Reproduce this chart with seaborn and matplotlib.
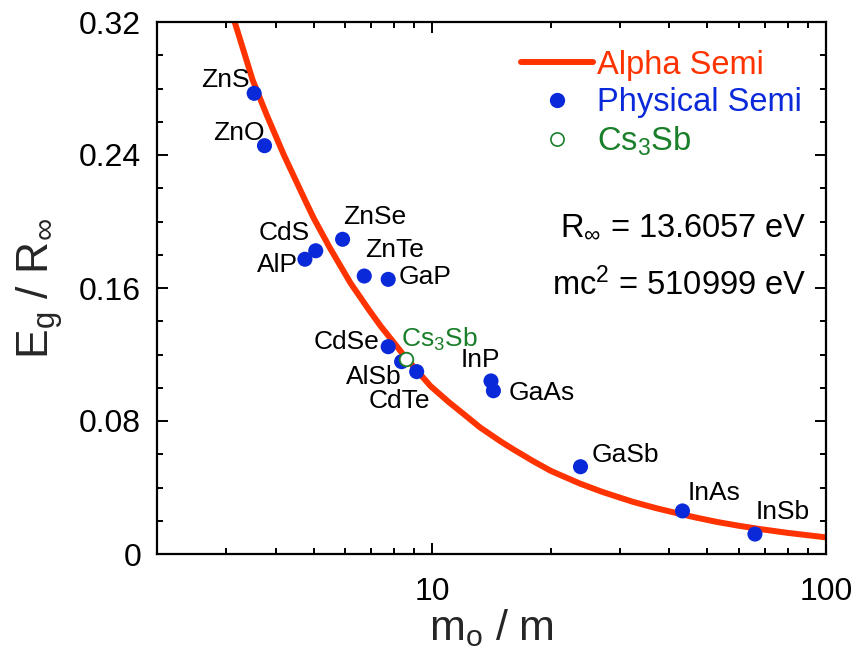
import numpy as np
import pandas as pd
import matplotlib
matplotlib.use("Agg")
import matplotlib.pyplot as plt
import seaborn as sns
from matplotlib.lines import Line2D
from matplotlib.ticker import LogLocator, FixedLocator, MultipleLocator, NullFormatter

# ---- data ----
curve_x = [3.15, 3.5, 3.8, 4.2, 4.75, 5.0, 5.5, 6.2, 6.9, 7.4, 8.0, 8.5, 9.9, 11.0, 12.0,
           13.2, 14.9, 16.0, 18.0, 20.0, 23.7, 27.0, 32.3, 37.0, 42.6, 47.0, 52.8, 60.0,
           68.0, 80.0, 100.0]
curve_y = [0.320, 0.285, 0.264, 0.240, 0.213, 0.202, 0.184, 0.163, 0.147, 0.137, 0.127,
           0.119, 0.101, 0.0915, 0.0843, 0.0763, 0.0678, 0.0632, 0.0560, 0.0500, 0.0424,
           0.0374, 0.0314, 0.0276, 0.0241, 0.0218, 0.0193, 0.0170, 0.0150, 0.0127, 0.0100]

semis = ["ZnS", "ZnO", "CdS", "AlP", "ZnSe", "ZnTe", "GaP", "CdSe", "AlSb", "CdTe",
         "InP", "GaAs", "GaSb", "InAs", "InSb"]
semi_x = [3.53, 3.75, 5.06, 4.75, 5.92, 6.72, 7.73, 7.73, 8.36, 9.13, 14.1, 14.3, 23.8, 43.2, 66.0]
semi_y = [0.2771, 0.2456, 0.1824, 0.1773, 0.1893, 0.1672, 0.1652, 0.1247, 0.1157, 0.1097,
          0.1041, 0.0982, 0.0525, 0.0259, 0.0120]

cs3sb_x = [8.56]
cs3sb_y = [0.1173]

x_ticks = [10, 100]
x_ticklabels = ["10", "100"]
y_ticks = [0, 0.08, 0.16, 0.24, 0.32]
y_ticklabels = ["0", "0.08", "0.16", "0.24", "0.32"]

# ---- label offsets (pixels) ----
label_offsets = {
    "ZnS": (-29, 13), "ZnO": (-26, 13), "CdS": (-32, 18), "AlP": (-27, -6),
    "ZnSe": (32, 22), "ZnTe": (30, 26), "GaP": (37, 2), "CdSe": (-42, 5),
    "AlSb": (-28, -15), "CdTe": (-17, -29), "InP": (-11, 21), "GaAs": (48, -2),
    "GaSb": (45, 12), "InAs": (32, 18), "InSb": (28, 22),
}

RED = "#ff3300"
BLUE = "#0a2ad9"
GREEN = "#1a7f2a"

sns.set_theme(style="ticks")
plt.rcParams["font.family"] = ["Liberation Sans", "DejaVu Sans"]
plt.rcParams["mathtext.fontset"] = "custom"
plt.rcParams["mathtext.rm"] = "Liberation Sans"
plt.rcParams["mathtext.it"] = "Liberation Sans"
plt.rcParams["mathtext.sf"] = "Liberation Sans"

fig = plt.figure(figsize=(8.52, 6.69), dpi=100)
ax = fig.add_axes([157 / 852, 1 - 554 / 669, (826 - 157) / 852, (554 - 22) / 669])

curve_df = pd.DataFrame({"x": curve_x, "y": curve_y})
semi_df = pd.DataFrame({"x": semi_x, "y": semi_y, "name": semis})
cs_df = pd.DataFrame({"x": cs3sb_x, "y": cs3sb_y})

sns.lineplot(data=curve_df, x="x", y="y", ax=ax, color=RED, lw=4.3, zorder=2,
             sort=True, estimator=None)
sns.scatterplot(data=semi_df, x="x", y="y", ax=ax, color=BLUE, s=118,
                edgecolor="none", linewidth=0, zorder=3)
sns.scatterplot(data=cs_df, x="x", y="y", ax=ax, facecolor="white", s=95,
                edgecolor=GREEN, linewidth=1.3, zorder=4)

ax.set_xscale("log")
ax.set_xlim(2, 100)
ax.set_ylim(0, 0.32)

for name, x, y in zip(semis, semi_x, semi_y):
    dx, dy = label_offsets[name]
    ax.annotate(name, (x, y), xytext=(dx, dy), textcoords="offset pixels",
                ha="center", va="center", fontsize=19, color="black", zorder=5)
ax.annotate(r"Cs$_{3}$Sb", (cs3sb_x[0], cs3sb_y[0]), xytext=(34, 20),
            textcoords="offset pixels", ha="center", va="center",
            fontsize=19, color=GREEN, zorder=5)

# ticks
ax.xaxis.set_major_locator(FixedLocator(x_ticks))
ax.set_xticklabels(x_ticklabels)
ax.xaxis.set_minor_locator(LogLocator(base=10, subs=np.arange(2, 10)))
ax.xaxis.set_minor_formatter(NullFormatter())
ax.yaxis.set_major_locator(FixedLocator(y_ticks))
ax.set_yticklabels(y_ticklabels)
ax.yaxis.set_minor_locator(MultipleLocator(0.02))
ax.tick_params(which="both", direction="in", top=True, right=True, colors="black",
               labelsize=23, width=1.4)
ax.tick_params(which="major", length=8)
ax.tick_params(axis="x", which="major", pad=16.5)
ax.tick_params(axis="y", which="major", pad=11.5)
ax.tick_params(which="minor", length=4.5)
for sp in ax.spines.values():
    sp.set_visible(True)
    sp.set_color("black")
    sp.set_linewidth(1.6)

ax.set_xlabel(r"m$_{\rm o}$ / m", fontsize=31, labelpad=0)
ax.set_ylabel(r"E$_{\rm g}$ / R$_{\infty}$", fontsize=32, labelpad=10)

# text annotations
ax.text(0.97, 0.615, r"R$_{\infty}$ = 13.6057 eV", transform=ax.transAxes,
        ha="right", va="center", fontsize=23.5, color="black")
ax.text(0.97, 0.505, r"mc$^{2}$ = 510999 eV", transform=ax.transAxes,
        ha="right", va="center", fontsize=23.5, color="black")

handles = [
    Line2D([], [], color=RED, lw=4.3),
    Line2D([], [], color=BLUE, marker="o", ls="none", markersize=11, markeredgewidth=0),
    Line2D([], [], color=GREEN, marker="o", ls="none", markersize=9.5,
           markerfacecolor="white", markeredgewidth=1.2),
]
labels = ["Alpha Semi", "Physical Semi", r"Cs$_{3}$Sb"]
leg = ax.legend(handles, labels, loc="upper left", bbox_to_anchor=(0.51, 0.991),
                frameon=False, fontsize=23.5, handlelength=2.2, handletextpad=0.12,
                labelspacing=0.2, borderaxespad=0.3)
for t, c in zip(leg.get_texts(), [RED, BLUE, GREEN]):
    t.set_color(c)

fig.savefig("out.png", dpi=100)
